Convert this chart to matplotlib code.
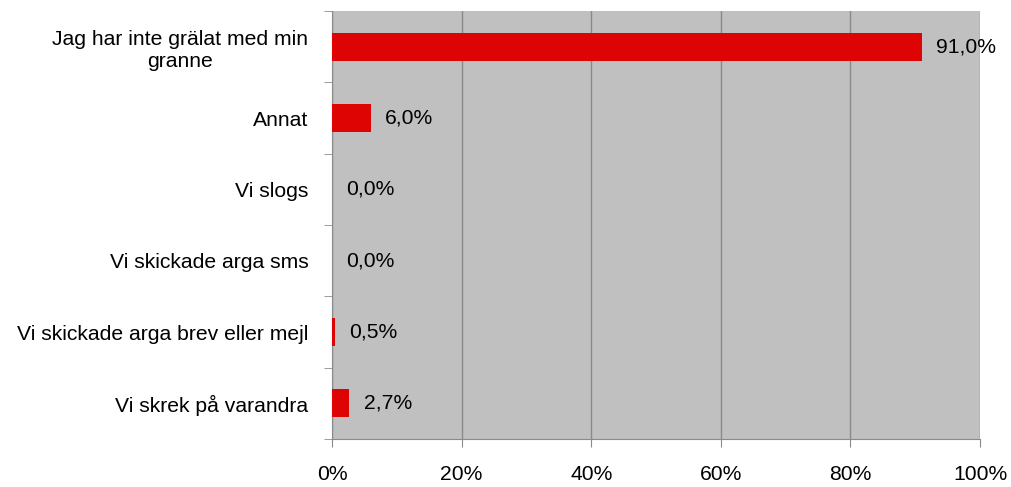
import matplotlib.pyplot as plt

# -----------------
# Data
# -----------------
categories = [
    "Jag har inte grälat med min\ngranne",
    "Annat",
    "Vi slogs",
    "Vi skickade arga sms",
    "Vi skickade arga brev eller mejl",
    "Vi skrek på varandra",
]
values = [91.0, 6.0, 0.0, 0.0, 0.5, 2.7]
xticks = [0, 20, 40, 60, 80, 100]

plt.rcParams["font.family"] = ["Liberation Sans", "DejaVu Sans"]
fs = 15.2

fig = plt.figure(figsize=(10.11, 4.87), dpi=100)
ax = fig.add_axes([332 / 1011, 1 - 439 / 487, 648 / 1011, 428 / 487])
ax.set_facecolor("#C0C0C0")

# top category first
pos = list(range(len(categories)))[::-1]
ax.barh(pos, values, height=0.39, color="#DE0404", zorder=3)

for p, v in zip(pos, values):
    ax.text(v + 2.2, p, f"{v:.1f}".replace(".", ",") + "%", va="center",
            ha="left", fontsize=fs, color="black", zorder=4)

ax.set_xlim(0, 100)
ax.set_ylim(-0.5, len(categories) - 0.5)
ax.set_xticks(xticks)
ax.set_xticklabels([f"{t}%" for t in xticks], fontsize=fs)
ax.set_yticks(pos)
ax.set_yticklabels(categories, fontsize=fs)
ax.set_yticks([i - 0.5 for i in range(len(categories) + 1)], minor=True)

ax.grid(axis="x", color="#8A8A8A", linewidth=1, zorder=1)
ax.tick_params(axis="y", which="major", length=0, pad=17)
ax.tick_params(axis="y", which="minor", length=6, color="#8A8A8A")
ax.tick_params(axis="x", length=6, color="#8A8A8A", pad=13)

for s in ["top", "right"]:
    ax.spines[s].set_visible(False)
for s in ["left", "bottom"]:
    ax.spines[s].set_color("#8A8A8A")

for lbl in ax.get_yticklabels():
    lbl.set_multialignment("center")

fig.savefig("out.png", dpi=100)
